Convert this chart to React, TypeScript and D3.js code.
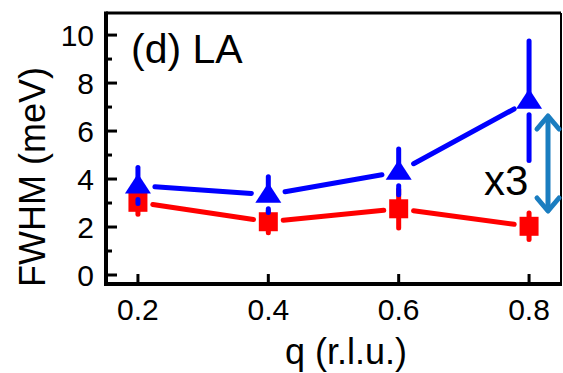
import * as d3 from 'd3'

const qValues = [0.2, 0.4, 0.6, 0.8]
const blueFwhm = [3.73, 3.35, 4.3, 7.26]
const blueErr = [0.75, 0.75, 0.95, 2.49]
const redFwhm = [3.03, 2.22, 2.76, 2.03]
const redErr = [0.5, 0.46, 0.8, 0.55]
const yMajorTicks = [0, 2, 4, 6, 8, 10]
const yMinorTicks = [1, 3, 5, 7, 9]
const xTicks = [0.2, 0.4, 0.6, 0.8]

const width = 563
const height = 373
const frame = { left: 106, right: 561, top: 13, bottom: 284 }
const font = "'Liberation Sans', Arial, sans-serif"
const BLUE = '#0000ff'
const RED = '#ff0000'
const ARROW = '#1a7dc0'

// shorten a segment at both ends by gap px
function shortSeg(x1: number, y1: number, x2: number, y2: number, gap: number) {
  const len = Math.hypot(x2 - x1, y2 - y1)
  const ux = (x2 - x1) / len
  const uy = (y2 - y1) / len
  return [x1 + ux * gap, y1 + uy * gap, x2 - ux * gap, y2 - uy * gap]
}

export default function App() {
  const x = d3.scaleLinear().domain([0.151, 0.849]).range([frame.left, frame.right])
  const y = d3.scaleLinear().domain([-0.375, 10.92]).range([frame.bottom, frame.top])

  const blue = qValues.map((q, i) => ({ px: x(q), py: y(blueFwhm[i]), top: y(blueFwhm[i] + blueErr[i]), bot: y(blueFwhm[i] - blueErr[i]) }))
  const red = qValues.map((q, i) => ({ px: x(q), py: y(redFwhm[i]), top: y(redFwhm[i] + redErr[i]), bot: y(redFwhm[i] - redErr[i]) }))

  const tri = (cx: number, cy: number) =>
    `M${cx},${cy - 12}L${cx + 13},${cy + 8}L${cx - 13},${cy + 8}Z`

  const arrowX = 548
  const arrowTop = 115
  const arrowBot = 212

  return (
    <svg width={width} height={height} style={{ position: 'absolute', left: 0, top: 0, background: '#fff' }}>
      {/* red series */}
      {red.slice(1).map((d, i) => {
        const [a, b, c, e] = shortSeg(red[i].px, red[i].py, d.px, d.py, 15)
        return <line key={'rl' + i} x1={a} y1={b} x2={c} y2={e} stroke={RED} strokeWidth={5} strokeLinecap="round" />
      })}
      {red.map((d, i) => (
        <g key={'rp' + i}>
          <line x1={d.px} x2={d.px} y1={d.top} y2={d.bot} stroke={RED} strokeWidth={5} strokeLinecap="round" />
          <rect x={d.px - 9.5} y={d.py - 9.5} width={19} height={19} fill={RED} />
        </g>
      ))}

      {/* blue series */}
      {blue.slice(1).map((d, i) => {
        const [a, b, c, e] = shortSeg(blue[i].px, blue[i].py, d.px, d.py, 17)
        return <line key={'bl' + i} x1={a} y1={b} x2={c} y2={e} stroke={BLUE} strokeWidth={5} strokeLinecap="round" />
      })}
      {blue.map((d, i) => (
        <g key={'bp' + i}>
          <line x1={d.px} x2={d.px} y1={d.top} y2={d.py} stroke={BLUE} strokeWidth={5} strokeLinecap="round" />
          <line x1={d.px} x2={d.px} y1={d.py + 14} y2={d.bot} stroke={BLUE} strokeWidth={5} strokeLinecap="round" />
          <path d={tri(d.px, d.py)} fill={BLUE} />
        </g>
      ))}

      {/* frame */}
      <line x1={frame.left} x2={frame.right} y1={frame.top} y2={frame.top} stroke="#000" strokeWidth={3} />
      <line x1={frame.right} x2={frame.right} y1={frame.top} y2={frame.bottom} stroke="#000" strokeWidth={2} />
      <line x1={frame.left} x2={frame.left} y1={frame.top - 1.5} y2={frame.bottom + 2} stroke="#000" strokeWidth={4} />
      <line x1={frame.left - 2} x2={frame.right + 1} y1={frame.bottom} y2={frame.bottom} stroke="#000" strokeWidth={4} />

      {/* y ticks */}
      {yMajorTicks.map((t) => (
        <g key={'ym' + t}>
          <line x1={frame.left} x2={frame.left + 11} y1={y(t)} y2={y(t)} stroke="#000" strokeWidth={3} />
          <text x={94} y={y(t) + 10.5} textAnchor="end" fontFamily={font} fontSize={30} fill="#000">{t}</text>
        </g>
      ))}
      {yMinorTicks.map((t) => (
        <line key={'yn' + t} x1={frame.left} x2={frame.left + 6} y1={y(t)} y2={y(t)} stroke="#000" strokeWidth={3} />
      ))}

      {/* x ticks */}
      {xTicks.map((t) => (
        <g key={'x' + t}>
          <line x1={x(t)} x2={x(t)} y1={frame.bottom} y2={frame.bottom - 10} stroke="#000" strokeWidth={3} />
          <text x={x(t)} y={320} textAnchor="middle" fontFamily={font} fontSize={30} fill="#000">{d3.format('.1f')(t)}</text>
        </g>
      ))}

      {/* axis titles */}
      <text x={346} y={364} textAnchor="middle" fontFamily={font} fontSize={36} fill="#000">q (r.l.u.)</text>
      <text transform="translate(45,177) rotate(-90)" textAnchor="middle" fontFamily={font} fontSize={36} fill="#000">FWHM (meV)</text>

      {/* annotations */}
      <text x={131} y={63} fontFamily={font} fontSize={41} fill="#000">(d) LA</text>
      <text x={484} y={195} fontFamily={font} fontSize={42} fill="#000">x3</text>

      <g stroke={ARROW} strokeWidth={5} fill="none" strokeLinecap="round" strokeLinejoin="round">
        <line x1={arrowX} x2={arrowX} y1={arrowTop + 2} y2={arrowBot - 2} />
        <polyline points={`${arrowX - 11},${arrowTop + 14} ${arrowX},${arrowTop + 1} ${arrowX + 11},${arrowTop + 14}`} />
        <polyline points={`${arrowX - 11},${arrowBot - 14} ${arrowX},${arrowBot - 1} ${arrowX + 11},${arrowBot - 14}`} />
      </g>
    </svg>
  )
}
